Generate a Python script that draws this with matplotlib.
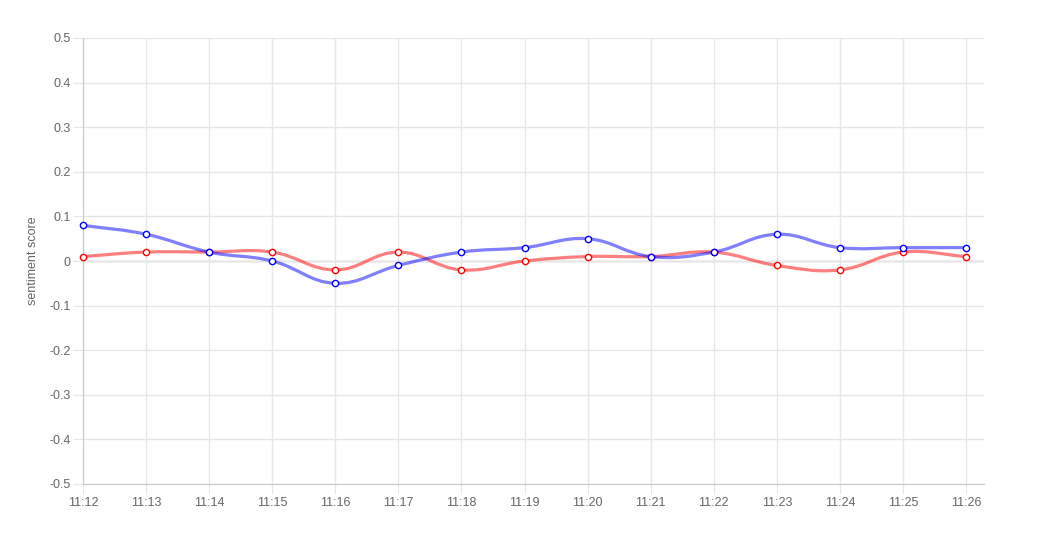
import numpy as np
import matplotlib.pyplot as plt
from matplotlib.path import Path
from matplotlib.patches import PathPatch

# data
times = ['11:12', '11:13', '11:14', '11:15', '11:16', '11:17', '11:18', '11:19',
         '11:20', '11:21', '11:22', '11:23', '11:24', '11:25', '11:26']
blue_vals = [0.08, 0.06, 0.02, 0.0, -0.05, -0.01, 0.02, 0.03,
             0.05, 0.01, 0.02, 0.06, 0.03, 0.03, 0.03]
red_vals = [0.01, 0.02, 0.02, 0.02, -0.02, 0.02, -0.02, 0.0,
            0.01, 0.01, 0.02, -0.01, -0.02, 0.02, 0.01]

plt.rcParams['font.family'] = ['Liberation Sans', 'DejaVu Sans']

fig = plt.figure(figsize=(10.37, 5.51), dpi=100)
ax = fig.add_axes([83 / 1037, 1 - 484 / 551, 901 / 1037, 446 / 551])
x = np.arange(len(times))
ax.set_xlim(0, 14.285)
ax.set_ylim(-0.5, 0.5)


def smooth_path(xs, ys, tension=0.4):
    # chart.js style spline, computed in pixel space
    pts = ax.transData.transform(np.column_stack([xs, ys]))
    n = len(pts)
    verts = [pts[0]]
    codes = [Path.MOVETO]
    cps = []
    for i in range(n):
        prev = pts[i - 1] if i > 0 else pts[i]
        cur = pts[i]
        nxt = pts[i + 1] if i < n - 1 else pts[i]
        d01 = np.hypot(*(cur - prev))
        d12 = np.hypot(*(nxt - cur))
        s = d01 + d12
        fa = tension * d01 / s if s else 0
        fb = tension * d12 / s if s else 0
        cps.append((cur - fa * (nxt - prev), cur + fb * (nxt - prev)))
    for i in range(1, n):
        verts += [cps[i - 1][1], cps[i][0], pts[i]]
        codes += [Path.CURVE4] * 3
    inv = ax.transData.inverted()
    return Path(inv.transform(np.array(verts)), codes)


for vals, line_c, pt_c in [(red_vals, (1, 0, 0, 0.5), 'red'),
                           (blue_vals, (0, 0, 1, 0.5), 'blue')]:
    ax.add_patch(PathPatch(smooth_path(x, vals), fill=False, edgecolor=line_c,
                           lw=2.3, capstyle='round', joinstyle='round', zorder=3))
    ax.plot(x, vals, 'o', ms=4.5, mfc='white', mec=pt_c, mew=1, zorder=4,
            clip_on=False)

ax.set_xticks(x)
ax.set_xticklabels(times)
ax.set_yticks(np.round(np.arange(-0.5, 0.51, 0.1), 1))
ax.set_yticklabels(['-0.5', '-0.4', '-0.3', '-0.2', '-0.1', '0',
                    '0.1', '0.2', '0.3', '0.4', '0.5'])
ax.grid(True, color='#e6e6e6', lw=1)
ax.axhline(0, color='#c0c0c0', lw=1, zorder=1)
for s in ['top', 'right']:
    ax.spines[s].set_visible(False)
for s in ['left', 'bottom']:
    ax.spines[s].set_color('#c8c8c8')
ax.tick_params(colors='#e6e6e6', labelcolor='#666666', labelsize=9, length=7,
               pad=2)
ax.set_ylabel('sentiment score', color='#666666', fontsize=9, labelpad=7)

fig.savefig('out.png', dpi=100)
